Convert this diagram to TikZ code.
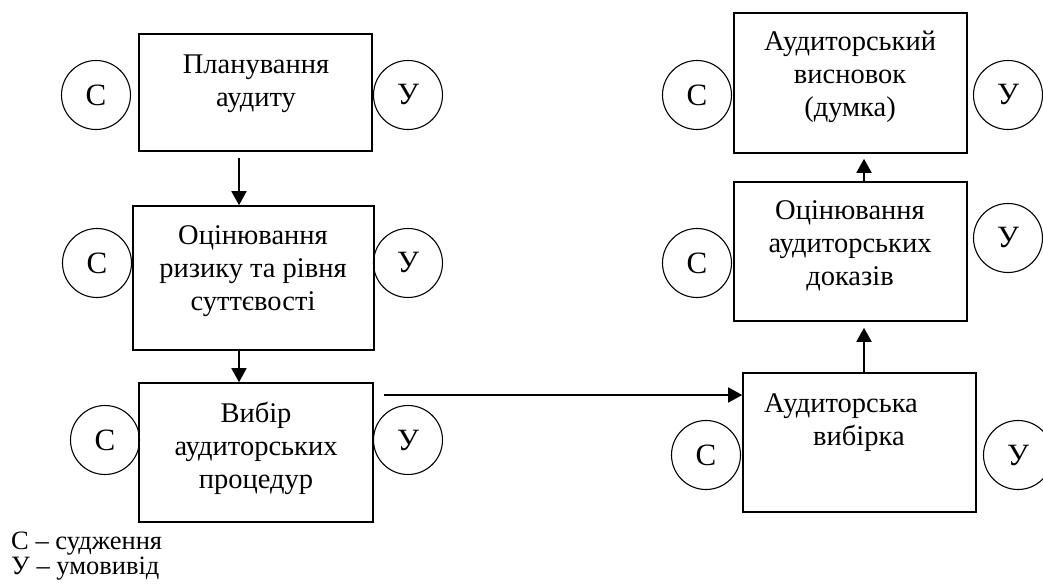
\documentclass[tikz,border=0pt]{standalone}
\usepackage{fontspec}
\setmainfont{Liberation Serif}
\usetikzlibrary{arrows.meta,calc}
\begin{document}
\begin{tikzpicture}[x=1pt,y=-1pt,
  stepbox/.style={draw, line width=1.6pt, inner sep=0pt},
  circ/.style={draw, circle, line width=1.1pt, minimum size=69pt, inner sep=0pt, font=\fontsize{31}{31}\selectfont},
  txt/.style={align=center, inner sep=0pt, font=\fontsize{28.5}{33}\selectfont, anchor=base},
  legend/.style={align=left, inner sep=0pt, font=\fontsize{26.5}{25}\selectfont, anchor=base west},
  arr/.style={line width=1.8pt, -{Triangle[length=14pt,width=15pt]}}]
\useasboundingbox (0,0) rectangle (1043,585);
% boxes
\node[stepbox, minimum width=233pt, minimum height=117pt] (b1) at (255.5,92.5) {};
\node[stepbox, minimum width=241pt, minimum height=144pt] (b2) at (253.5,278) {};
\node[stepbox, minimum width=234pt, minimum height=139pt] (b3) at (256,452.5) {};
\node[stepbox, minimum width=233pt, minimum height=140pt] (b4) at (850.5,83) {};
\node[stepbox, minimum width=233pt, minimum height=139pt] (b5) at (850.5,251.5) {};
\node[stepbox, minimum width=233pt, minimum height=139pt] (b6) at (859.5,442.5) {};
% box texts
\node[txt] (t1) at (256,107) {Планування\\аудиту};
\node[txt] (t2) at (253,310) {Оцінювання\\ризику та рівня\\суттєвості};
\node[txt] (t3) at (256,488) {Вибір\\аудиторських\\процедур};
\node[txt] (t4) at (850,117) {Аудиторський\\висновок\\(думка)};
\node[txt] (t5) at (850,285) {Оцінювання\\аудиторських\\доказів};
\node[txt, align=left, anchor=base west] (t6) at (764,445) {Аудиторська\\\hspace*{49pt}вибірка};
% circles
\node[circ] (c1) at (96,95) {С};
\node[circ] (u1) at (408,95) {У};
\node[circ] (c2) at (97,263) {С};
\node[circ] (u2) at (408,263) {У};
\node[circ] (c3) at (105,440) {С};
\node[circ] (u3) at (408,440) {У};
\node[circ] (c4) at (697,95) {С};
\node[circ] (u4) at (1008,95) {У};
\node[circ] (c5) at (697,263) {С};
\node[circ] (u5) at (1008,238) {У};
\node[circ] (c6) at (706,455) {С};
\node[circ] (u6) at (1018,455) {У};
% arrows
\coordinate (ax) at (239,0);
\coordinate (bx) at (864,0);
\coordinate (hy) at (0,395);
\draw[arr] ($(b1.south -| ax)+(0,6)$) -- (b2.north -| ax);
\draw[arr] (b2.south -| ax) -- (b3.north -| ax);
\draw[arr] ($(b3.east |- hy)+(10,0)$) -- (b6.west |- hy);
\draw[arr] (b6.north -| bx) -- ($(b5.south -| bx)+(0,6)$);
\draw[arr] (b5.north -| bx) -- ($(b4.south -| bx)+(0,5)$);
% legend
\node[legend] (leg) at (11,574) {С – судження\\У – умовивід};
\end{tikzpicture}
\end{document}
